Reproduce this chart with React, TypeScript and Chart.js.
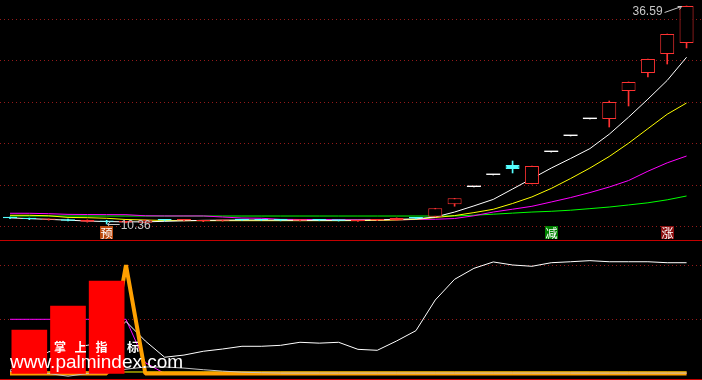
import { useEffect, useRef } from 'react';
import { Chart, registerables } from 'chart.js';

Chart.register(...registerables);

// ---------- upper panel: daily candles ----------
const opens = [11.15, 11.05, 10.86, 10.92, 10.62, 10.76, 10.55, 10.52, 10.82, 10.78, 10.68, 10.74, 10.86, 10.82, 10.80, 10.76, 10.80, 10.78, 10.70, 10.78, 10.84, 11.10, 11.24, 12.73, 14.81, 16.26, 17.46, 15.17, 19.02, 20.95, 22.99, 22.99, 26.36, 28.53, 30.81, 32.14];
const highs = [11.20, 11.08, 10.98, 10.95, 10.86, 10.80, 10.66, 10.86, 10.88, 10.84, 10.76, 10.82, 10.88, 10.86, 10.84, 10.82, 10.84, 10.82, 10.80, 10.86, 11.10, 11.14, 12.25, 13.45, 14.81, 16.26, 17.94, 17.34, 19.02, 20.95, 22.99, 25.16, 27.45, 30.21, 33.22, 36.59];
const lows = [11.00, 10.88, 10.82, 10.72, 10.58, 10.36, 10.50, 10.48, 10.74, 10.72, 10.64, 10.70, 10.78, 10.76, 10.74, 10.72, 10.75, 10.72, 10.66, 10.76, 10.82, 10.98, 11.24, 12.50, 14.81, 16.26, 16.50, 15.17, 19.02, 20.95, 22.99, 22.03, 24.56, 28.05, 29.61, 31.54];
const closes = [11.05, 10.95, 10.95, 10.76, 10.83, 10.62, 10.62, 10.82, 10.78, 10.80, 10.72, 10.78, 10.82, 10.80, 10.78, 10.80, 10.78, 10.76, 10.78, 10.84, 11.08, 11.02, 12.25, 13.45, 14.81, 16.26, 16.98, 17.34, 19.02, 20.95, 22.99, 25.04, 27.45, 30.21, 33.22, 36.59];

const ma5 = [11.10, 11.00, 10.92, 10.82, 10.72, 10.65, 10.62, 10.62, 10.68, 10.75, 10.80, 10.82, 10.84, 10.84, 10.82, 10.80, 10.80, 10.80, 10.82, 10.85, 10.92, 10.98, 11.20, 11.80, 12.54, 13.32, 14.57, 15.83, 17.09, 18.24, 19.43, 21.16, 23.21, 25.38, 27.64, 30.42];
const ma10 = [11.41, 11.41, 11.35, 11.15, 11.12, 11.05, 10.90, 10.84, 10.78, 10.76, 10.76, 10.76, 10.76, 10.76, 10.76, 10.76, 10.76, 10.76, 10.77, 10.80, 10.85, 10.92, 11.14, 11.37, 11.73, 12.13, 12.83, 13.62, 14.64, 15.83, 17.09, 18.48, 20.08, 21.83, 23.57, 24.92];
const ma20 = [11.65, 11.65, 11.60, 11.52, 11.50, 11.49, 11.48, 11.35, 11.33, 11.33, 11.33, 11.20, 11.08, 11.05, 10.92, 10.90, 10.90, 10.88, 10.85, 10.85, 10.86, 10.90, 10.93, 11.02, 11.35, 11.80, 12.14, 12.49, 13.01, 13.54, 14.14, 14.81, 15.59, 16.71, 17.72, 18.54];
const ma60 = [11.32, 11.32, 11.32, 11.32, 11.32, 11.32, 11.32, 11.32, 11.32, 11.32, 11.32, 11.32, 11.32, 11.32, 11.32, 11.32, 11.32, 11.32, 11.32, 11.32, 11.32, 11.32, 11.32, 11.33, 11.42, 11.54, 11.67, 11.80, 11.89, 12.02, 12.21, 12.40, 12.65, 12.91, 13.27, 13.73];

const priceGrid = [10, 15, 20, 25, 30, 35];
const signalIndex = [5, 28, 34];
const signalText = ['预', '减', '涨'];

// ---------- lower panel: indicator ----------
const barIndex = [1, 3, 5];
const barValue = [40.1, 62.3, 85.3];
const whiteLine = [3, 10, 20, 24, 26, 30, 48, 30, 15, 17, 20.5, 22.6, 25.1, 25.1, 26, 28.8, 28, 28.8, 22.3, 21.4, 30, 39.5, 67.8, 86.9, 97, 102.9, 100.1, 98.9, 102.2, 103.1, 104.1, 103.1, 103.1, 103.1, 102.2, 102.2];
const grayLine = [2, 1, 0, -2.5, 0, 0.5, 4, 6, 6, 5, 3.5, 2.2, 1.2, 0.7, 0.4, 0.4, 0.4, 0.4, 0.4, 0.4, 0.4, 0.4, 0.4, 0.4, 0.4, 0.4, 0.4, 0.4, 0.4, 0.4, 0.4, 0.4, 0.4, 0.4, 0.4, 0.4];
const yellowLine = [1.4, 1.4, 1.4, 1.4, 1.4, 1.4, 1.4, 1.4, 1.4, 1.4, 1.4, 1.4, 1.4, 1.4, 1.4, 1.4, 1.4, 1.4, 1.4, 1.4, 1.4, 1.4, 1.4, 1.4, 1.4, 1.4, 1.4, 1.4, 1.4, 1.4, 1.4, 1.4, 1.4, 1.4, 1.4, 1.4];
const magentaLine = [50, 50, 50, 50, 50, 50, 50, 10, 0, 0, 0, 0, 0, 0, 0, 0, 0, 0, 0, 0, 0, 0, 0, 0, 0, 0, 0, 0, 0, 0, 0, 0, 0, 0, 0, 0];
const orangeLine = [0, 0, 0, 0, 0, 0, 100, 0, 0, 0, 0, 0, 0, 0, 0, 0, 0, 0, 0, 0, 0, 0, 0, 0, 0, 0, 0, 0, 0, 0, 0, 0, 0, 0, 0, 0];
const indicatorGrid = [50, 100];

// ---------- styles / layout ----------
const UP = '#ff3232';
const DOWN = '#54ffff';
const FLAT = '#ffffff';
const GRID = '#941a1a';
const SEP = '#c40000';
const SIGNAL_BG = ['#b8480c', '#008200', '#8c1010'];
const SPACING = 19.33;
const X_MIN = -10 / SPACING;
const X_MAX = (702 - 10) / SPACING;

const candleColor = (i: number) => (closes[i] > opens[i] ? UP : closes[i] < opens[i] ? DOWN : FLAT);

const lineDs = (label: string, vals: number[], color: string, order: number, width = 1) => ({
  type: 'line' as const,
  label,
  data: vals.map((v, i) => ({ x: i, y: v })),
  borderColor: color,
  borderWidth: width,
  pointRadius: 0,
  tension: 0,
  fill: false,
  order,
});

const upperMarks = {
  id: 'upperMarks',
  afterDatasetsDraw(chart: any) {
    const { ctx, scales } = chart;
    const x = scales.x;
    const y = scales.y;
    let hi = 0;
    let lo = 0;
    highs.forEach((v, i) => { if (v > highs[hi]) hi = i; });
    lows.forEach((v, i) => { if (v < lows[lo]) lo = i; });
    ctx.save();
    ctx.font = '12px "Liberation Sans", Arial, sans-serif';
    ctx.fillStyle = '#c8c8c8';
    ctx.strokeStyle = '#c8c8c8';
    ctx.lineWidth = 1;
    const hx = x.getPixelForValue(hi);
    const hy = y.getPixelForValue(highs[hi]);
    ctx.textAlign = 'right';
    ctx.textBaseline = 'middle';
    ctx.fillText(highs[hi].toFixed(2), hx - 24, hy + 6);
    ctx.beginPath();
    ctx.moveTo(hx - 22, hy + 6.5);
    ctx.lineTo(hx - 5, hy + 0.5);
    ctx.moveTo(hx - 5, hy + 0.5);
    ctx.lineTo(hx - 9, hy + 0.5);
    ctx.moveTo(hx - 5, hy + 0.5);
    ctx.lineTo(hx - 7, hy + 3.5);
    ctx.stroke();

    const lx = x.getPixelForValue(lo);
    const ly = Math.round(y.getPixelForValue(lows[lo])) + 0.5;
    ctx.beginPath();
    ctx.moveTo(lx + 1, ly);
    ctx.lineTo(lx + 13, ly);
    ctx.moveTo(lx + 1, ly);
    ctx.lineTo(lx + 4, ly - 3);
    ctx.moveTo(lx + 1, ly);
    ctx.lineTo(lx + 4, ly + 3);
    ctx.stroke();
    ctx.textAlign = 'left';
    ctx.fillText(lows[lo].toFixed(2), lx + 14, ly + 1);

    ctx.font = '12px "Noto Sans CJK SC", sans-serif';
    ctx.textAlign = 'center';
    signalIndex.forEach((idx, k) => {
      const sx = Math.round(x.getPixelForValue(idx) - 6.5);
      ctx.fillStyle = SIGNAL_BG[k];
      ctx.fillRect(sx, 226, 13, 13);
      ctx.fillStyle = '#ffffff';
      ctx.fillText(signalText[k], sx + 6.5, 233);
    });
    ctx.restore();
  },
};

const watermark = {
  id: 'watermark',
  afterDraw(chart: any) {
    const { ctx } = chart;
    ctx.save();
    ctx.fillStyle = '#ffffff';
    ctx.font = 'bold 12px "Noto Sans CJK SC", sans-serif';
    ctx.textAlign = 'center';
    ctx.textBaseline = 'middle';
    const chars = ['掌', '上', '指', '标'];
    const xs = [60, 80.5, 101.5, 133];
    chars.forEach((c, i) => ctx.fillText(c, xs[i], 106));
    ctx.font = '19px "Liberation Sans", Arial, sans-serif';
    ctx.textAlign = 'left';
    ctx.textBaseline = 'alphabetic';
    ctx.fillText('www.palmindex.com', 10, 127);
    ctx.restore();
  },
};

const yAxis = (min: number, max: number, ticks: number[]) => ({
  type: 'linear' as const,
  position: 'left' as const,
  min,
  max,
  ticks: { display: false },
  grid: { color: GRID, drawTicks: false, lineWidth: 1 },
  border: { display: false, dash: [1, 3] },
  afterBuildTicks: (axis: any) => {
    axis.ticks = ticks.map((v) => ({ value: v }));
  },
  afterFit: (axis: any) => {
    axis.width = 0;
  },
});

const xAxis = {
  type: 'linear' as const,
  display: false,
  min: X_MIN,
  max: X_MAX,
  offset: false,
};

const baseOptions = {
  responsive: false,
  maintainAspectRatio: false,
  animation: false as const,
  events: [] as any[],
  layout: { padding: 0 },
  plugins: { legend: { display: false }, tooltip: { enabled: false } },
};

export default function App() {
  const topRef = useRef<HTMLCanvasElement>(null);
  const botRef = useRef<HTMLCanvasElement>(null);

  useEffect(() => {
    const idx = closes.map((_, i) => i);
    const isFlat = (i: number) => closes[i] === opens[i];
    const top = new Chart(topRef.current as HTMLCanvasElement, {
      type: 'line',
      data: {
        datasets: [
          {
            type: 'bar',
            label: 'body',
            data: idx.map((i) => ({ x: i, y: [Math.min(opens[i], closes[i]), Math.max(opens[i], closes[i])] })),
            backgroundColor: idx.map((i) => (closes[i] > opens[i] ? '#000000' : candleColor(i))),
            borderColor: idx.map((i) => candleColor(i)),
            borderWidth: idx.map((i) => (isFlat(i) ? 0 : 1)),
            borderSkipped: false,
            inflateAmount: 0,
            barThickness: 14,
            minBarLength: 1.4,
            grouped: false,
            order: 1,
          },
          {
            type: 'bar',
            label: 'wick',
            data: idx.map((i) => ({ x: i, y: [lows[i], highs[i]] })),
            backgroundColor: idx.map((i) => candleColor(i)),
            borderWidth: 0,
            barThickness: 1,
            minBarLength: 0,
            grouped: false,
            order: 2,
          },
          lineDs('MA5', ma5, '#ffffff', 3),
          lineDs('MA10', ma10, '#ffff00', 4),
          lineDs('MA20', ma20, '#ff00ff', 5),
          lineDs('MA60', ma60, '#00ff00', 6),
        ] as any,
      },
      options: {
        ...baseOptions,
        scales: { x: xAxis, y: yAxis(8.435, 37.312, priceGrid) },
      } as any,
      plugins: [upperMarks],
    });

    const bottom = new Chart(botRef.current as HTMLCanvasElement, {
      type: 'line',
      data: {
        datasets: [
          {
            type: 'bar',
            label: 'bars',
            data: barIndex.map((x, k) => ({ x, y: barValue[k] })),
            backgroundColor: '#ff0000',
            borderWidth: 0,
            barThickness: 35,
            grouped: false,
            order: 1,
          },
          lineDs('gray', grayLine, '#c4c4c4', 2),
          { ...lineDs('orange', orangeLine, '#ffa000', 3, 4), borderJoinStyle: 'bevel' },
          lineDs('white', whiteLine, '#ffffff', 4),
          lineDs('yellow', yellowLine, '#ffff00', 5),
          lineDs('magenta', magentaLine, '#ff00ff', 6),
        ] as any,
      },
      options: {
        ...baseOptions,
        scales: { x: xAxis, y: yAxis(-5.07, 122.23, indicatorGrid) },
      } as any,
      plugins: [watermark],
    });

    return () => {
      top.destroy();
      bottom.destroy();
    };
  }, []);

  return (
    <div style={{ position: 'fixed', left: 0, top: 0, width: 702, height: 380, background: '#000', overflow: 'hidden' }}>
      <canvas ref={topRef} width={702} height={240} style={{ display: 'block' }} />
      <div style={{ height: 1, background: SEP }} />
      <canvas ref={botRef} width={702} height={138} style={{ display: 'block' }} />
      <div style={{ height: 1, background: SEP }} />
    </div>
  );
}
